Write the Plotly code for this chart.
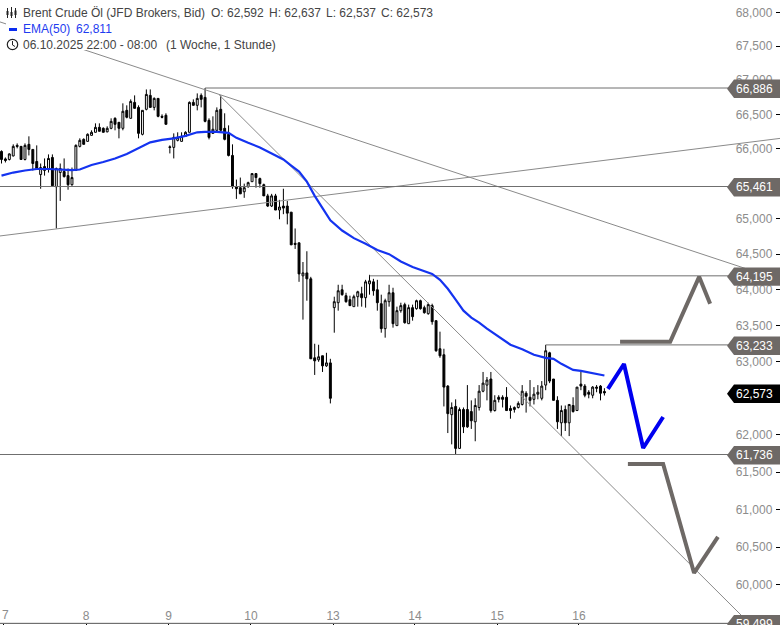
import math
import plotly.graph_objects as go

opens = [65965,65857,65849,65900,66052,66038,65849,66067,65994,65820,
 65632,65690,65719,65878,65458,65661,65675,65617,65487,65690,
 66038,66139,66110,66197,66241,66313,66299,66248,66299,66444,
 66386,66299,66560,66444,66676,66603,66212,66575,66778,66603,
 66734,66473,66488,66031,66023,66125,66110,66183,66241,66676,
 66633,66778,66749,66415,66226,66270,66575,66299,66212,65907,
 65458,65444,65386,65458,65530,65646,65574,65487,65327,65182,
 65327,65125,65182,65182,65095,64653,64660,64195,64236,64153,
 63055,63027,63083,62944,62985,63750,63819,64000,63917,63861,
 63764,63903,63944,63889,64083,64111,64000,63805,63458,63833,
 63958,63500,63708,63792,63527,63750,63736,63847,63750,63666,
 63778,63569,63180,63097,62666,62276,62388,61818,62346,62346,
 62318,62179,62374,62596,62680,62763,62332,62513,62513,62513,
 62360,62346,62374,62415,62568,62513,62485,62555,62499,62680,
 63124,62763,62471,62165,62346,62165,62401,62332,62693,62666,
 62582,62541,62652,62666,62592]
highs = [65980,65878,65936,66067,66081,66038,66081,66183,65994,66052,
 65791,65864,65922,65922,65733,65791,65864,65719,65733,66067,
 66154,66154,66226,66270,66371,66371,66313,66328,66444,66459,
 66386,66662,66633,66720,66778,66633,66560,66865,66865,66749,
 66734,66502,66517,66052,66226,66241,66241,66256,66690,66720,
 66807,66807,66886,66444,66473,66603,66778,66517,66342,66067,
 65560,65589,65502,65530,65646,65646,65589,65502,65356,65356,
 65356,65270,65429,65255,65095,64863,64660,64389,64541,64181,
 63249,63235,63083,63124,63041,63903,64070,64070,63958,63917,
 63931,63986,64042,64139,64209,64153,64139,63931,63875,64070,
 64028,63764,63819,63819,63792,63792,63861,63861,63778,63819,
 63805,63569,63416,63180,62680,62443,62485,62374,62374,62680,
 62471,62499,62680,62860,62791,62860,62541,62541,62541,62652,
 62401,62388,62457,62680,62596,62749,62652,62680,62735,63233,
 63138,62763,62527,62401,62401,62415,62513,62652,62860,62693,
 62610,62666,62680,62680,62637]
lows = [65791,65806,65835,65893,66009,65849,65835,65907,65690,65719,
 65429,65617,65661,65472,64863,65255,65589,65415,65472,65690,
 66023,66067,66110,66197,66241,66256,66241,66241,66285,66270,
 66154,66270,66444,66444,66589,66154,66197,66560,66603,66560,
 66459,66444,66357,65936,65864,66110,66110,66183,66241,66633,
 66560,66603,66386,66139,66226,66241,66241,66125,65893,65429,
 65284,65356,65299,65444,65530,65444,65444,65327,65168,65168,
 65125,64994,65066,64921,64631,64574,64111,63583,63847,63041,
 62819,63000,62860,62930,62429,63402,63708,63917,63819,63778,
 63764,63764,63764,63750,63931,63917,63708,63402,63333,63764,
 63472,63500,63680,63527,63527,63569,63722,63722,63666,63652,
 63513,63138,63055,62388,62026,61873,61736,61818,62026,62096,
 62082,61915,62332,62582,62471,62304,62318,62443,62374,62332,
 62221,62304,62360,62401,62304,62388,62415,62485,62471,62610,
 62707,62471,62082,61985,62054,61985,62304,62332,62610,62513,
 62499,62499,62582,62471,62537]
closes = [65849,65835,65929,66038,66038,65849,66052,65994,65791,65719,
 65733,65748,65864,65472,65719,65719,65603,65487,65589,66052,
 66125,66067,66212,66241,66313,66256,66241,66299,66400,66357,
 66299,66546,66459,66690,66589,66226,66560,66792,66603,66734,
 66473,66459,66357,66023,66168,66168,66183,66241,66676,66633,
 66734,66720,66400,66168,66285,66560,66270,66139,65907,65458,
 65429,65356,65444,65516,65646,65589,65502,65327,65182,65327,
 65125,65168,65153,65081,64631,64638,64222,64236,64153,63041,
 63013,63069,62944,62985,62499,63833,63986,63931,63833,63778,
 63903,63972,63889,64111,64125,63986,63819,63458,63847,63958,
 63527,63708,63778,63541,63750,63625,63847,63736,63680,63792,
 63555,63152,63083,62652,62290,62374,61818,62346,62110,62110,
 62193,62401,62596,62707,62749,62332,62471,62485,62485,62332,
 62332,62374,62429,62596,62527,62471,62555,62582,62666,63152,
 62735,62471,62179,62332,62165,62415,62318,62652,62666,62541,
 62555,62652,62638,62568,62573]

ema_x = [0,3,6,9,12,15,18,20,23,26,29,32,35,38,41,44,47,50,52,55,58,60,63,66,69,72,74,76,78,80,82,84,
         87,90,93,96,99,102,105,108,110,112,114,116,118,120,122,124,127,130,133,136,139,141,143,146,148,151,154]
ema_values = [65617,65661,65690,65712,65712,65705,65697,65705,65770,65813,65864,65929,66009,66096,66132,66154,
              66190,66241,66248,66248,66234,66161,66089,66023,65936,65849,65762,65675,65530,65327,65153,64980,
              64834,64726,64646,64559,64500,64396,64320,64264,64222,64139,64014,63861,63708,63611,63541,63458,
              63347,63235,63173,63097,63055,63041,62972,62888,62874,62846,62811]

day_labels = ["7","8","9","10","13","14","15","16"]
day_ticks = [0.46,21.6,42.7,63.7,84.7,105.6,126.6,147.5]
price_ticks = [60000,60500,61000,61500,62000,63000,63500,64000,64500,65000,66000,66500,67000,67500,68000]
price_labels = ["60,000","60,500","61,000","61,500","62,000","63,000","63,500","64,000","64,500",
                "65,000","66,000","66,500","67,000","67,500","68,000"]

level_prices = [66886,65461,64195,63233,61736,59499]
level_labels = ["66,886","65,461","64,195","63,233","61,736","59,499"]
level_starts = [52,-0.4,94,139,-0.4,-0.4]
last_price = 62573
last_label = "62,573"

trend_a_x, trend_a_y = [-0.38,198.85],[67859,64138]
trend_b_x, trend_b_y = [-0.38,198.85],[64757,66153]
trend_c_x, trend_c_y = [55.6,189.9],[66785,59556]

proj_up_x, proj_up_y = [158,170.8,178.2,181],[63277,63277,64181,63805]
proj_down_x, proj_down_y = [160,169,176.9,183],[61609,61609,60158,60633]
proj_ema_x, proj_ema_y = [154.9,159,163.9,169],[62627,62970,61824,62244]

GRAY = "#6e6966"
W, H = 780, 625
B = 2
PH = H - B
LOG_HI = 4.83369
LOG_LO = 4.77454

def fx(x): return x / W
def fy(y): return 1 - y / PH
def price_y(p): return (LOG_HI - math.log10(p)) / (LOG_HI - LOG_LO) * PH

fig = go.Figure()
for xs, ys in [(trend_a_x, trend_a_y), (trend_b_x, trend_b_y), (trend_c_x, trend_c_y)]:
    fig.add_trace(go.Scatter(x=xs, y=ys, mode="lines", line=dict(color="#8a8a8a", width=1), hoverinfo="skip"))
for p, s in zip(level_prices, level_starts):
    fig.add_trace(go.Scatter(x=[s, 199], y=[p, p], mode="lines", line=dict(color="#6f6f6f", width=1), hoverinfo="skip"))

fig.add_trace(go.Candlestick(
    x=list(range(len(opens))), open=opens, high=highs, low=lows, close=closes,
    increasing=dict(line=dict(color="#000000", width=1), fillcolor="#ffffff"),
    decreasing=dict(line=dict(color="#000000", width=1), fillcolor="#000000"),
    whiskerwidth=0, hoverinfo="skip"))

fig.add_trace(go.Scatter(x=ema_x, y=ema_values, mode="lines", line=dict(color="#1433f0", width=2.2), hoverinfo="skip"))
fig.add_trace(go.Scatter(x=proj_up_x, y=proj_up_y, mode="lines", line=dict(color=GRAY, width=4), hoverinfo="skip"))
fig.add_trace(go.Scatter(x=proj_down_x, y=proj_down_y, mode="lines", line=dict(color=GRAY, width=4), hoverinfo="skip"))
fig.add_trace(go.Scatter(x=proj_ema_x, y=proj_ema_y, mode="lines", line=dict(color="#0000f0", width=4), hoverinfo="skip"))

shapes, annotations = [], []

def label(x, y, text, color="#444444", anchor="left", size=12):
    annotations.append(dict(x=fx(x), y=fy(y), xref="paper", yref="paper", text=text, showarrow=False,
                            xanchor=anchor, yanchor="middle", xshift=0,
                            font=dict(family="Liberation Sans", size=size, color=color),
                            borderpad=0, borderwidth=0))

def tag(price, text, color):
    c = price_y(price) + 0.8
    pts = [(727, c), (734, c - 9.2), (780, c - 9.2), (780, c + 9.2), (734, c + 9.2)]
    path = "M" + " L".join(f"{fx(a):.5f},{fy(b):.5f}" for a, b in pts) + " Z"
    shapes.append(dict(type="path", xref="paper", yref="paper", path=path, fillcolor=color,
                       line=dict(width=0), layer="above"))
    label(754.5, c, text, color="#ffffff", anchor="center")

def seg(x0, y0, x1, y1, color="#222222", width=1):
    shapes.append(dict(type="line", xref="paper", yref="paper", x0=fx(x0), y0=fy(y0), x1=fx(x1), y1=fy(y1),
                       line=dict(color=color, width=width), layer="above"))

# white backing of the header block
shapes.append(dict(type="rect", xref="paper", yref="paper", x0=fx(6), x1=fx(280), y0=fy(22), y1=fy(50),
                   fillcolor="#ffffff", line=dict(width=0), layer="above"))

for p, t in zip(level_prices, level_labels):
    tag(p, t, GRAY)
tag(last_price, last_label, "#000000")

# header icons
for cx, a, b, c, d in [(7.5, 8, 11, 15, 18), (11.5, 7, 12, 16, 18), (15.5, 8, 10.5, 15, 18)]:
    seg(cx, a, cx, d)
    shapes.append(dict(type="rect", xref="paper", yref="paper", x0=fx(cx - 1), x1=fx(cx + 1), y0=fy(b), y1=fy(c),
                       fillcolor="#222222", line=dict(width=0), layer="above"))
seg(9, 29.5, 17, 29.5, color="#0a2cf0", width=3)
shapes.append(dict(type="circle", xref="paper", yref="paper", x0=fx(7.3), x1=fx(17.7), y0=fy(39.3), y1=fy(49.7),
                   line=dict(color="#222222", width=1.2), layer="above"))
seg(12.5, 41, 12.5, 45)
seg(12.5, 45, 15, 46.5)

label(23, 13, "Brent Crude Öl (JFD Brokers, Bid)")
label(211, 13, "O: 62,592")
label(269, 13, "H: 62,637")
label(326, 13, "L: 62,537")
label(381, 13, "C: 62,573")
label(23, 29, "EMA(50)", color="#1e3cf0")
label(76, 29, "62,811", color="#1e3cf0")
label(23, 45, "06.10.2025 22:00 - 08:00")
label(166, 45, "(1 Woche, 1 Stunde)")
label(5, 615, day_labels[0], color="#8c8c8c", anchor="center")

fig.update_layout(
    width=W, height=H, margin=dict(l=0, r=0, t=0, b=B), showlegend=False,
    paper_bgcolor="#ffffff", plot_bgcolor="#ffffff", shapes=shapes, annotations=annotations,
    font=dict(family="Liberation Sans", size=12, color="#8c8c8c"),
    xaxis=dict(type="linear", range=[-0.383, 198.85], rangeslider=dict(visible=False), showgrid=False, zeroline=False,
               tickmode="array", tickvals=day_ticks, ticktext=[""] + day_labels[1:], ticks="outside", ticklen=2,
               tickcolor="#000000", ticklabelposition="inside", showline=True, linecolor="#6f6f6f", linewidth=1,
               tickfont=dict(family="Liberation Sans", size=12, color="#8c8c8c")),
    yaxis=dict(type="log", range=[LOG_LO, LOG_HI], side="right", showgrid=False, zeroline=False,
               tickmode="array", tickvals=price_ticks, ticktext=price_labels, ticks="inside", ticklen=4,
               tickcolor="#000000", ticklabelposition="inside", ticklabelstandoff=3, showline=False,
               tickfont=dict(family="Liberation Sans", size=12, color="#8c8c8c")),
)

fig.write_html("out.html", config=dict(displayModeBar=False),
               post_script="document.body.style.margin='0';document.body.style.overflow='hidden';")
